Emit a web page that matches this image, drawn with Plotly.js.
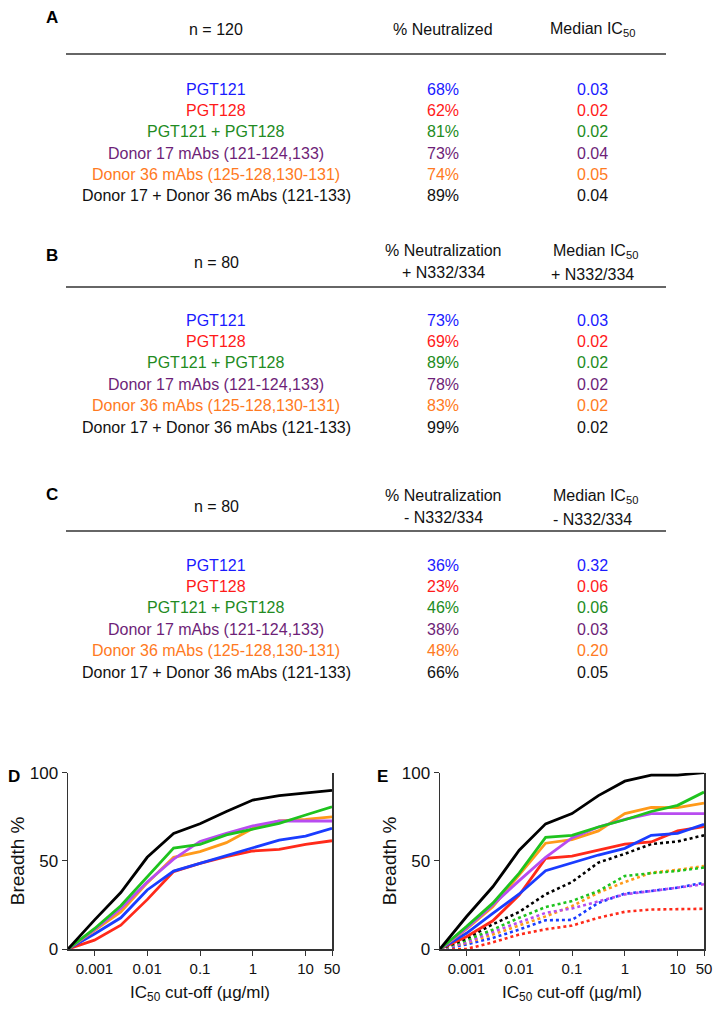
<!DOCTYPE html>
<html>
<head>
<meta charset="utf-8">
<script src="https://cdn.plot.ly/plotly-3.0.1.min.js"></script>
<style>html,body{margin:0;padding:0;background:#fff;}#chart{width:723px;height:1013px;}</style>
</head>
<body>
<div id="chart"></div>
<script>
// ---------- Table data ----------
const rowLabels = ["PGT121", "PGT128", "PGT121 + PGT128", "Donor 17 mAbs (121-124,133)", "Donor 36 mAbs (125-128,130-131)", "Donor 17 + Donor 36 mAbs (121-133)"];
const rowColors = ["#1a1aff", "#ff1a1a", "#228b22", "#6e1f78", "#ff7a22", "#111111"];
const pctA = ["68%", "62%", "81%", "73%", "74%", "89%"];
const icA  = ["0.03", "0.02", "0.02", "0.04", "0.05", "0.04"];
const pctB = ["73%", "69%", "89%", "78%", "83%", "99%"];
const icB  = ["0.03", "0.02", "0.02", "0.02", "0.02", "0.02"];
const pctC = ["36%", "23%", "46%", "38%", "48%", "66%"];
const icC  = ["0.32", "0.06", "0.06", "0.03", "0.20", "0.05"];

// ---------- Breadth curves ----------
const cutoffs = ["0", "0.001", "0.003", "0.01", "0.03", "0.1", "0.3", "1", "3", "10", "50"];
const xTickVals = ["0.001", "0.01", "0.1", "1", "10", "50"];
const seriesNames = ["PGT128", "PGT121", "Donor 36 mAbs", "Donor 17 mAbs", "PGT121 + PGT128", "Donor 17 + Donor 36 mAbs"];
const lineColors = ["#ff2a1a", "#1a3cff", "#ff9a1a", "#b84cf0", "#1ec31e", "#000000"];

// D: all 120 viruses
const d128   = [0, 5, 13.5, 28, 43.9, 48.6, 52.4, 55.6, 56.5, 59.4, 61.4];
const d121   = [0, 8.5, 17.7, 33.5, 44.2, 48.6, 52.7, 57, 61.8, 64, 68.4];
const dD36   = [0, 10.5, 21, 37.5, 52, 55.2, 60.3, 68.4, 72.6, 73.5, 75];
const dD17   = [0, 11, 23, 38, 51, 61, 65.6, 69.8, 72.6, 72.8, 72.6];
const dCombo = [0, 11.5, 24.5, 40.7, 57.2, 59.4, 64.7, 68, 71.3, 76, 80.7];
const dAll   = [0, 16.4, 32, 52, 65.5, 71, 78, 84.5, 87, 88.7, 90];

// E: + N332/334 (solid)
const ePlus128   = [0, 7, 16, 30.6, 51.4, 52.7, 56.1, 59.5, 60.7, 67, 69.4];
const ePlus121   = [0, 8.9, 20.2, 31.2, 44.4, 49, 53.3, 57.1, 64.5, 65.6, 70.7];
const ePlusD36   = [0, 11.2, 24, 42, 60, 62, 67, 76.8, 80.3, 80.2, 82.8];
const ePlusD17   = [0, 11.7, 25, 38.8, 52, 63, 69.2, 73.5, 76.8, 76.8, 76.8];
const ePlusCombo = [0, 12.7, 26, 43, 63.3, 64.5, 69.2, 73.3, 78, 81.5, 89];
const ePlusAll   = [0, 18.3, 35.3, 56, 71, 76.8, 87, 95.2, 98.6, 98.6, 100];

// E: - N332/334 (dotted)
const eMinus128   = [0, 0, 3.8, 8.2, 11.2, 13.3, 17.7, 21.1, 22.4, 22.4, 22.8];
const eMinus121   = [0, 2.5, 6.3, 11, 16.3, 16.5, 26.2, 31.4, 32.9, 34.8, 37.6];
const eMinusD36   = [0, 3.4, 8.2, 13.3, 18.5, 24.3, 32, 38, 43.3, 44.9, 47.1];
const eMinusD17   = [0, 3.8, 9.7, 15.2, 20.5, 23, 27, 31, 32.9, 34.8, 36.7];
const eMinusCombo = [0, 5, 11, 17.7, 23.8, 27.2, 32.9, 41.4, 43, 44.3, 46.2];
const eMinusAll   = [0, 6, 14, 21, 31, 38, 49, 54, 59.5, 61, 64.5];

// ---------- Layout helpers ----------
const W = 723, H = 1013;
const px = v => v / W;
const py = v => 1 - v / H;
const FONT = "Liberation Sans, Arial, sans-serif";

const annotations = [];
const shapes = [];
function ann(text, x, y, opt) {
  opt = opt || {};
  annotations.push({
    text: text, x: px(x), y: py(y), xref: "paper", yref: "paper",
    xanchor: opt.xanchor || "center", yanchor: "middle", showarrow: false,
    font: {family: FONT, size: opt.size || 16, color: opt.color || "#111"}
  });
}
function hline(y) {
  shapes.push({type: "line", xref: "paper", yref: "paper", x0: px(66), x1: px(666), y0: py(y), y1: py(y),
    line: {color: "#333", width: 1.5}});
}

const colName = 216, colPct = 443, colIc = 592;
function table(letter, letterY, headers, lineY, rowY0, pct, ic) {
  ann("<b>" + letter + "</b>", 52, letterY, {size: 17, color: "#000"});
  headers.forEach(h => ann(h.t, h.x, h.y));
  hline(lineY);
  rowLabels.forEach((lab, i) => {
    const y = rowY0 + i * 21.4;
    ann(lab, colName, y, {color: rowColors[i]});
    ann(pct[i], colPct, y, {color: rowColors[i]});
    ann(ic[i], colIc, y, {color: rowColors[i]});
  });
}

table("A", 17, [
  {t: "n = 120", x: colName, y: 30},
  {t: "% Neutralized", x: colPct, y: 30},
  {t: "Median IC<sub>50</sub>", x: colIc, y: 30}
], 54, 89, pctA, icA);

table("B", 255, [
  {t: "n = 80", x: colName, y: 262},
  {t: "% Neutralization", x: colPct, y: 251},
  {t: "+ N332/334", x: colPct, y: 272},
  {t: "Median IC<sub>50</sub>", x: colIc + 3, y: 252},
  {t: "+ N332/334", x: colIc, y: 274}
], 287, 320, pctB, icB);

table("C", 494, [
  {t: "n = 80", x: colName, y: 506},
  {t: "% Neutralization", x: colPct, y: 495},
  {t: "- N332/334", x: colPct, y: 517},
  {t: "Median IC<sub>50</sub>", x: colIc + 3, y: 496},
  {t: "- N332/334", x: colIc, y: 519}
], 531, 565, pctC, icC);

ann("<b>D</b>", 14, 776, {size: 17, color: "#000"});
ann("<b>E</b>", 382, 776, {size: 17, color: "#000"});

// ---------- Traces ----------
const traces = [];
const dSets = [d128, d121, dD36, dD17, dCombo, dAll];
const ePlusSets = [ePlus128, ePlus121, ePlusD36, ePlusD17, ePlusCombo, ePlusAll];
const eMinusSets = [eMinus128, eMinus121, eMinusD36, eMinusD17, eMinusCombo, eMinusAll];

dSets.forEach((ys, i) => traces.push({
  x: cutoffs, y: ys, type: "scatter", mode: "lines", name: seriesNames[i],
  xaxis: "x", yaxis: "y", line: {color: lineColors[i], width: 2.8}, showlegend: false
}));
eMinusSets.forEach((ys, i) => traces.push({
  x: cutoffs, y: ys, type: "scatter", mode: "lines", name: seriesNames[i] + " - N332/334",
  xaxis: "x2", yaxis: "y2", line: {color: lineColors[i], width: 2.6, dash: "dot"}, showlegend: false
}));
ePlusSets.forEach((ys, i) => traces.push({
  x: cutoffs, y: ys, type: "scatter", mode: "lines", name: seriesNames[i] + " + N332/334",
  xaxis: "x2", yaxis: "y2", line: {color: lineColors[i], width: 2.8}, showlegend: false
}));

function xAxis(domain, anchor) {
  return {
    type: "category", categoryorder: "array", categoryarray: cutoffs,
    domain: domain, anchor: anchor, range: [0, 10],
    tickmode: "array", tickvals: xTickVals, ticktext: xTickVals,
    showline: true, linecolor: "#333", linewidth: 1.5, ticks: "outside", ticklen: 5, tickcolor: "#333",
    showgrid: false, zeroline: false,
    tickfont: {family: FONT, size: 15, color: "#111"},
    title: {text: "IC<sub>50</sub> cut-off (µg/ml)", font: {family: FONT, size: 17, color: "#111"}, standoff: 10}
  };
}
function yAxis(domain, anchor) {
  return {
    domain: domain, anchor: anchor, range: [0, 100],
    tickmode: "array", tickvals: [0, 50, 100],
    showline: true, mirror: true, linecolor: "#333", linewidth: 1.5, ticks: "outside", ticklen: 5, tickcolor: "#333",
    showgrid: false, zeroline: false,
    tickfont: {family: FONT, size: 17, color: "#111"},
    title: {text: "Breadth %", font: {family: FONT, size: 19, color: "#111"}, standoff: 0}
  };
}

const yDom = [1 - 949 / H, 1 - 772.7 / H];
const layout = {
  width: W, height: H,
  margin: {l: 0, r: 0, t: 0, b: 0},
  paper_bgcolor: "#fff", plot_bgcolor: "rgba(0,0,0,0)",
  font: {family: FONT, color: "#111"},
  showlegend: false,
  xaxis: xAxis([68 / W, 332 / W], "y"),
  yaxis: yAxis(yDom, "x"),
  xaxis2: xAxis([440 / W, 704 / W], "y2"),
  yaxis2: yAxis(yDom, "x2"),
  annotations: annotations,
  shapes: shapes
};

Plotly.newPlot("chart", traces, layout, {staticPlot: true, displayModeBar: false});
</script>
</body>
</html>
